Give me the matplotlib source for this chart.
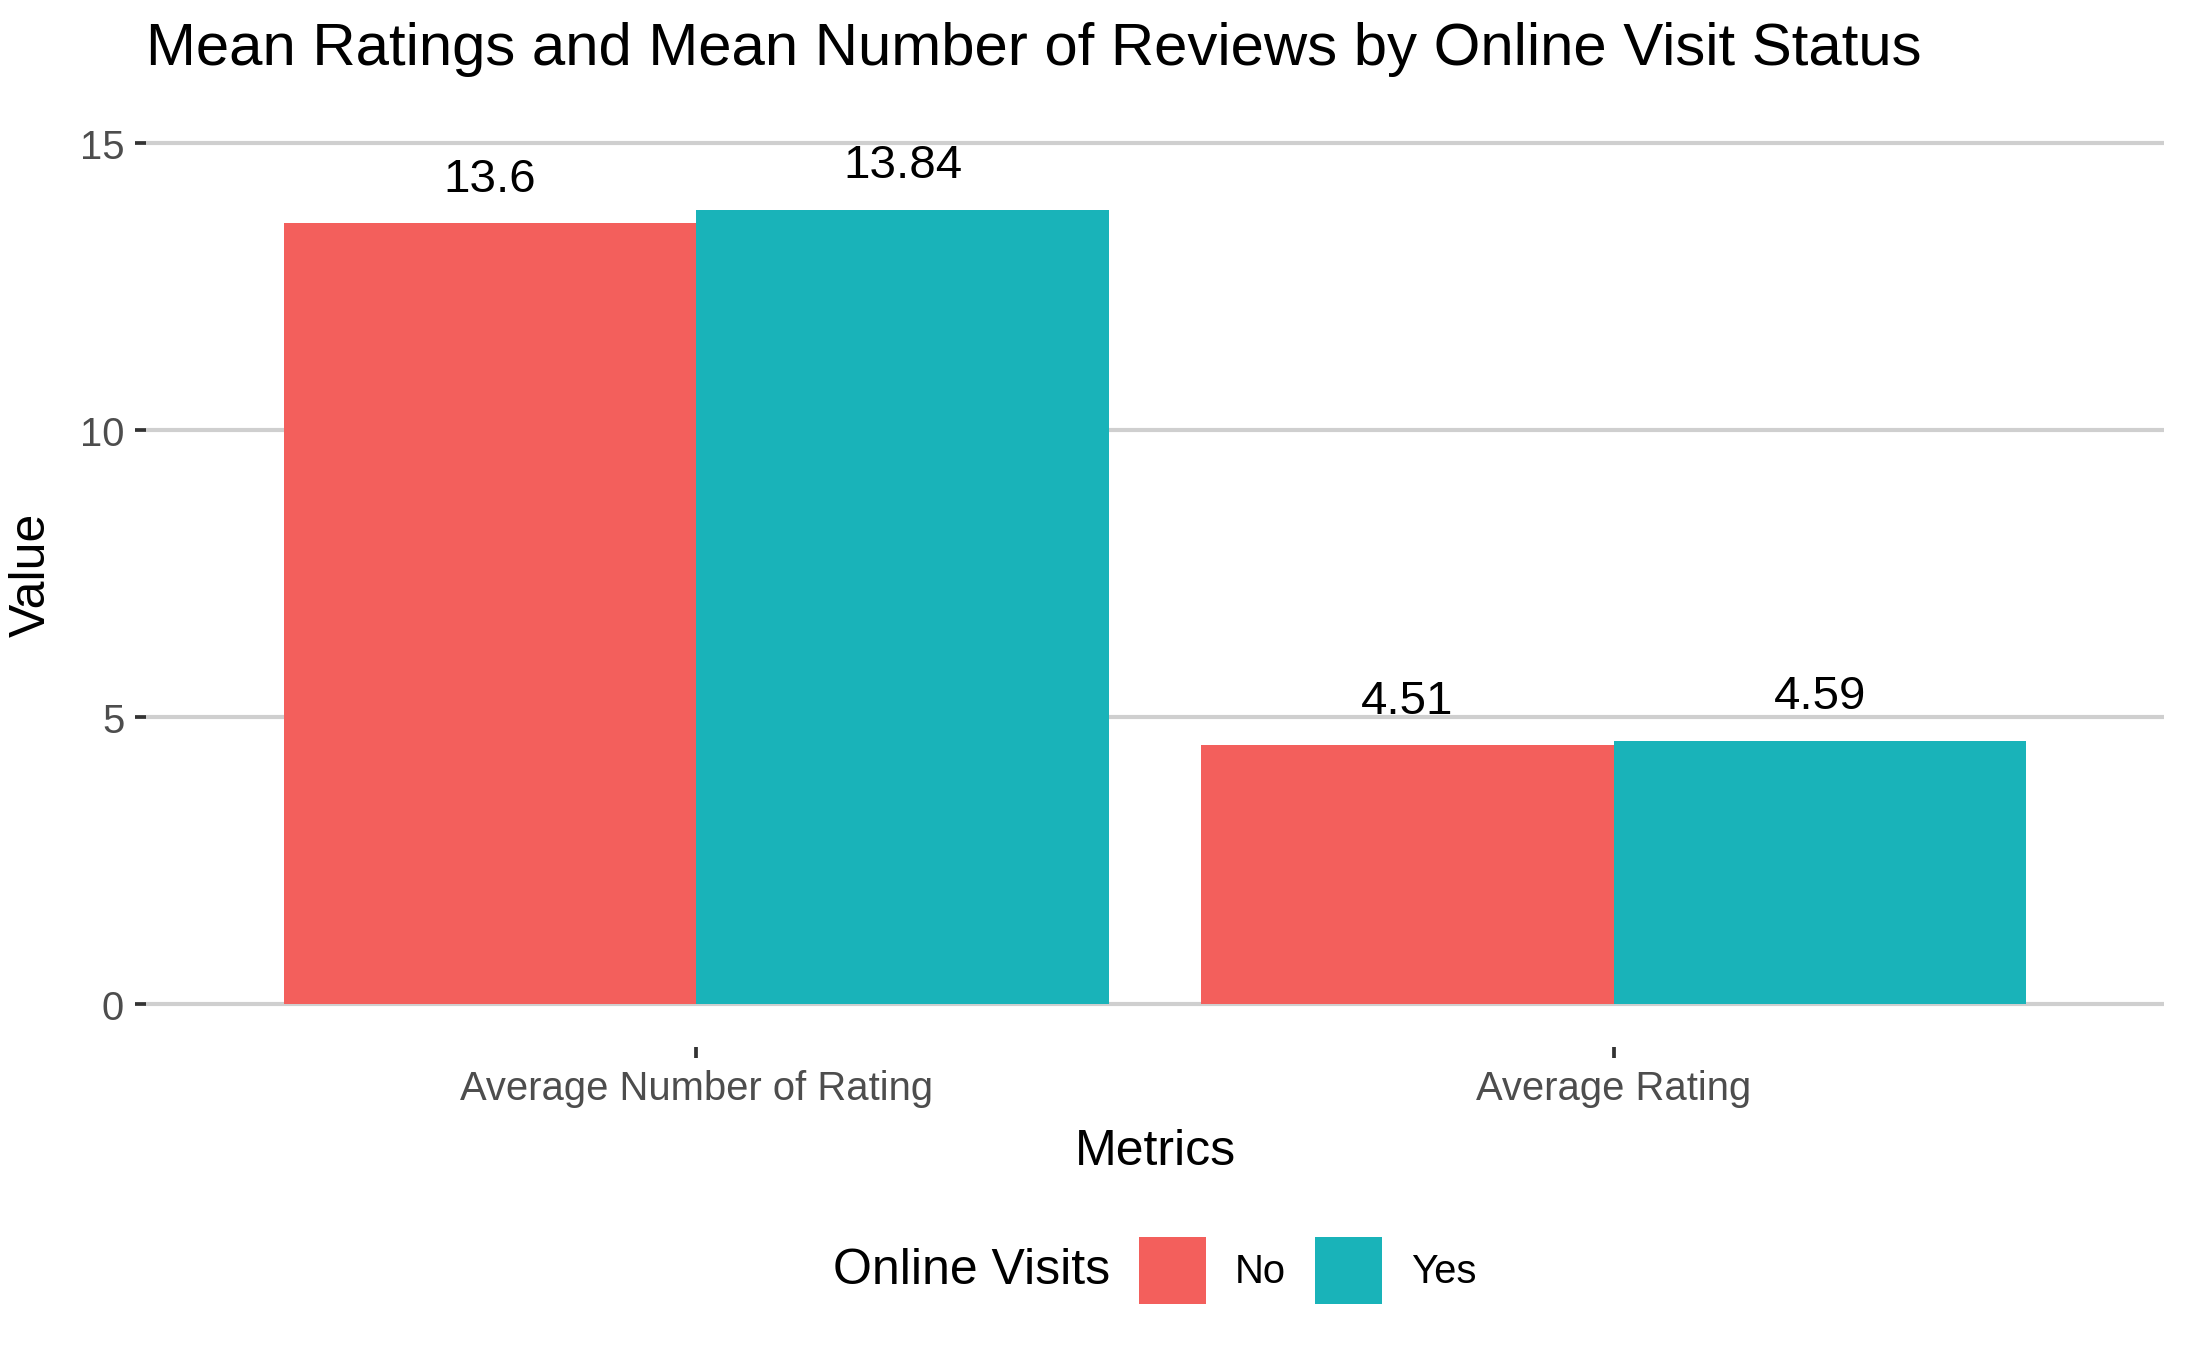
import numpy as np
import matplotlib.pyplot as plt
from matplotlib.patches import Patch

# data
metrics = ["Average Number of Rating", "Average Rating"]
groups = ["No", "Yes"]
values_no = [13.6, 4.51]
values_yes = [13.84, 4.59]
labels_no = ["13.6", "4.51"]
labels_yes = ["13.84", "4.59"]
colors = ["#F35F5C", "#19B3B9"]

plt.rcParams['font.family'] = ['Liberation Sans', 'DejaVu Sans']

fig = plt.figure(figsize=(7.29, 4.5033), dpi=300)
ax = fig.add_axes([146 / 2187, 1 - 1048 / 1351, 2018 / 2187, 947 / 1351])

x = np.arange(len(metrics))
w = 0.45
series = [(values_no, labels_no), (values_yes, labels_yes)]
for i, (vals, labs) in enumerate(series):
    pos = x + (i - 0.5) * w
    ax.bar(pos, vals, width=w, color=colors[i], linewidth=0, zorder=2)
    for px, v, t in zip(pos, vals, labs):
        ax.annotate(t, (px, v), xytext=(0, 7.8), textcoords='offset points',
                    ha='center', va='baseline', fontsize=11.4, color='black')

ax.set_xlim(-0.6, 1.6)
ax.set_ylim(-0.75, 15.75)
ax.set_yticks([0, 5, 10, 15])
ax.set_xticks(x)
ax.set_xticklabels(metrics)
ax.grid(axis='y', color='#CFCFCF', linewidth=1.0, zorder=0)
ax.grid(axis='x', visible=False)
for s in ax.spines.values():
    s.set_visible(False)
ax.tick_params(axis='both', length=2.75, width=0.9, color='#333333',
               labelcolor='#4D4D4D', labelsize=9.6, pad=2.5)

ax.set_xlabel("Metrics", fontsize=12, labelpad=5)
ax.set_ylabel("Value", fontsize=12, labelpad=6)

fig.text(146 / 2187, 1 - 65 / 1351, "Mean Ratings and Mean Number of Reviews by Online Visit Status",
         fontsize=14.4, ha='left', va='baseline')

# legend at the bottom, title on the left
fig.text(833 / 2187, 1 - 1271 / 1351, "Online Visits", fontsize=12, ha='left', va='center')
handles = [Patch(facecolor=colors[i], edgecolor='none', label=g) for i, g in enumerate(groups)]
fig.legend(handles=handles, ncol=2, loc='center left',
           bbox_to_anchor=(1139 / 2187, 1 - 1271 / 1351), frameon=False,
           fontsize=9.6, handlelength=1.67, handleheight=2.2,
           handletextpad=0.73, columnspacing=0.72, borderpad=0, borderaxespad=0)

fig.savefig("out.png", dpi=300, facecolor='white')
